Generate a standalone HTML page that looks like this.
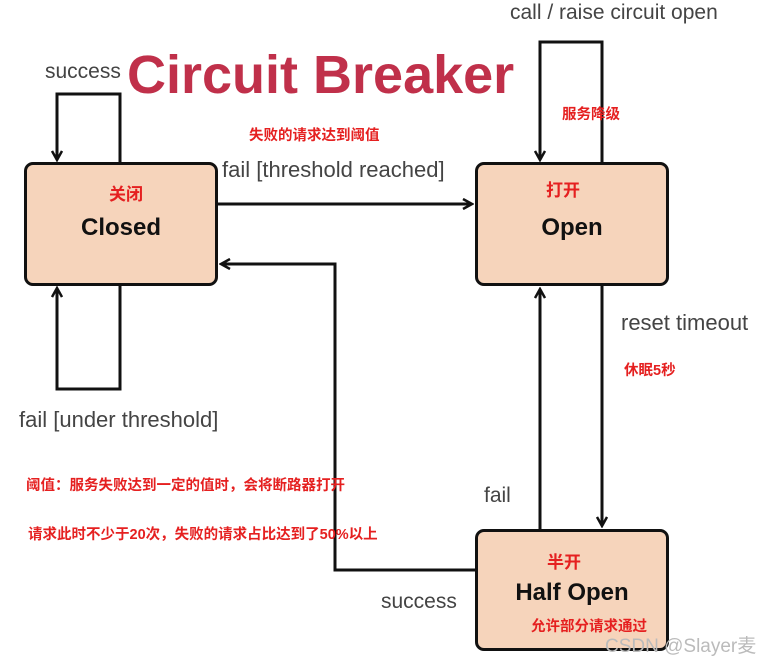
<!DOCTYPE html>
<html><head><meta charset="utf-8"><style>
body{margin:0;background:#fff;width:763px;height:666px;overflow:hidden;position:relative;font-family:"Liberation Sans","Noto Sans CJK SC",sans-serif}
.t{position:absolute;white-space:nowrap}
.g{color:#444;font-size:21px}
.r{color:#e52020;font-size:14.5px;font-weight:bold}
.box{position:absolute;background:#f6d4bb;border:3px solid #111;border-radius:9px;box-sizing:border-box}
.n{position:absolute;width:100%;text-align:center;font-weight:bold;color:#111;font-size:24px}
</style></head><body>
<svg width="763" height="666" style="position:absolute;left:0;top:0">
<defs><marker id="a" markerWidth="12" markerHeight="12" refX="10" refY="6" orient="auto" markerUnits="userSpaceOnUse"><path d="M1,1 L10,6 L1,11" fill="none" stroke="#111" stroke-width="2.5"/></marker></defs>
<g fill="none" stroke="#111" stroke-width="3">
<path d="M120,163 V94 H57 V160" marker-end="url(#a)"/>
<path d="M120,285 V389 H57 V288" marker-end="url(#a)"/>
<path d="M602,163 V42 H540 V160" marker-end="url(#a)"/>
<path d="M217,204 H472" marker-end="url(#a)"/>
<path d="M476,570 H335 V264 H221" marker-end="url(#a)"/>
<path d="M540,530 V289" marker-end="url(#a)"/>
<path d="M602,285 V526" marker-end="url(#a)"/>
</g></svg>
<div class="box" style="left:24px;top:162px;width:194px;height:124px"><div class="t r" style="left:82px;top:15px;font-size:17px">关闭</div><div class="n" style="top:49px">Closed</div></div>
<div class="box" style="left:475px;top:162px;width:194px;height:124px"><div class="t r" style="left:68px;top:11px;font-size:17px">打开</div><div class="n" style="top:49px">Open</div></div>
<div class="box" style="left:475px;top:529px;width:194px;height:122px"><div class="t r" style="left:69px;top:16px;font-size:17px">半开</div><div class="n" style="top:47px">Half Open</div><div class="t r" style="left:53px;top:83px">允许部分请求通过</div></div>
<div class="t" style="left:127px;top:44px;font-size:54px;font-weight:bold;color:#c0304a">Circuit Breaker</div>
<div class="t g" style="left:45px;top:60px">success</div>
<div class="t g" style="left:510px;top:1px">call / raise circuit open</div>
<div class="t r" style="left:562px;top:103px">服务降级</div>
<div class="t r" style="left:249px;top:124px">失败的请求达到阈值</div>
<div class="t g" style="left:222px;top:157px;font-size:22px">fail [threshold reached]</div>
<div class="t g" style="left:621px;top:310px;font-size:22px">reset timeout</div>
<div class="t r" style="left:624px;top:359px">休眠5秒</div>
<div class="t g" style="left:19px;top:407px;font-size:22px">fail [under threshold]</div>
<div class="t r" style="left:26px;top:474px">阈值：服务失败达到一定的值时，会将断路器打开</div>
<div class="t r" style="left:28px;top:523px">请求此时不少于20次，失败的请求占比达到了50%以上</div>
<div class="t g" style="left:484px;top:484px">fail</div>
<div class="t g" style="left:381px;top:590px">success</div>
<div class="t" style="left:605px;top:631px;font-size:19px;color:#bbb">CSDN @Slayer麦</div>
</body></html>
